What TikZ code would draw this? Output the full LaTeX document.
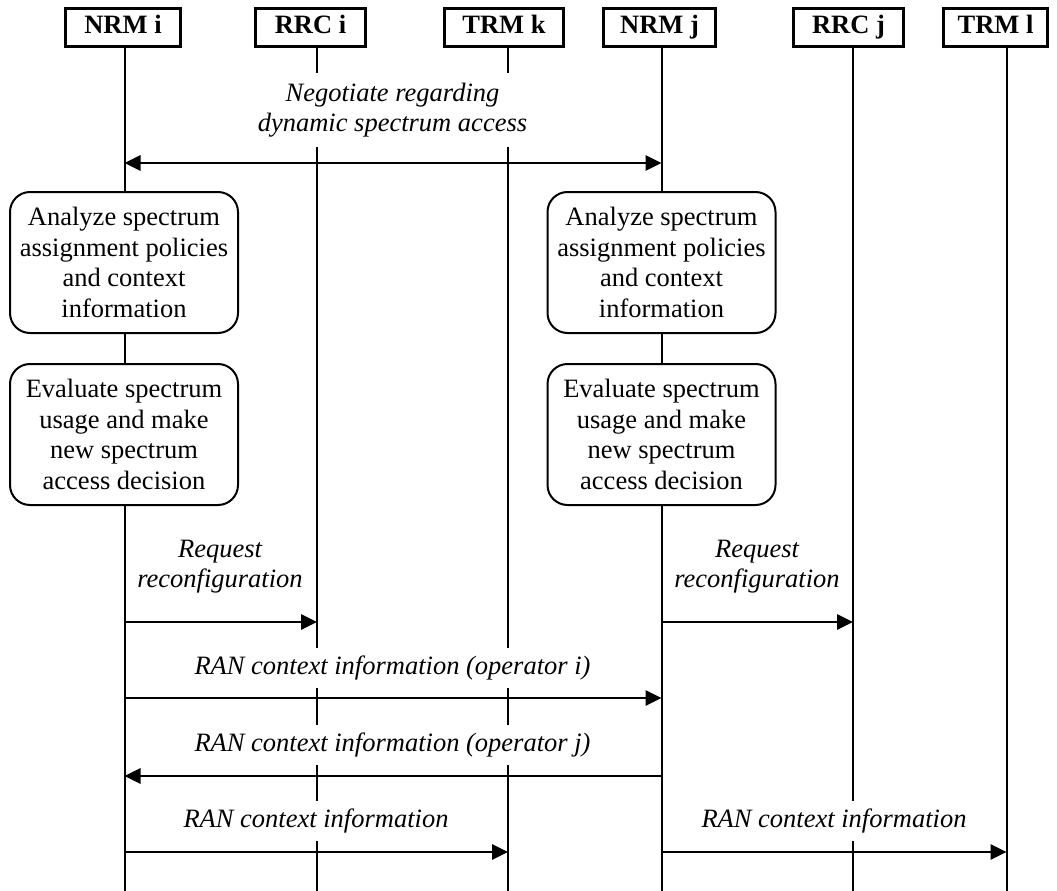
\documentclass[tikz,border=0pt]{standalone}
\usepackage{fontspec}
\setmainfont{Liberation Serif}
\usetikzlibrary{arrows.meta}

\begin{document}
\begin{tikzpicture}[x=1pt,y=-1pt,
  hdr/.style={draw,line width=3.3pt,font=\bfseries\fontsize{26.5}{30}\selectfont,
    minimum height=37.7pt,inner sep=0pt,text height=17.5pt,text depth=5.5pt},
  life/.style={line width=2pt},
  actbox/.style={draw,fill=white,line width=2pt,rounded corners=20pt,
    minimum width=228pt,minimum height=141pt,align=center,inner sep=0pt,
    font=\fontsize{26.5}{30.7}\selectfont},
  lbl/.style={fill=white,align=center,font=\itshape\fontsize{26.5}{30}\selectfont,
    inner xsep=6pt,inner ysep=8pt},
  msg/.style={line width=2.7pt,-{Triangle[length=16pt,width=15pt]}},
  msgboth/.style={line width=2.7pt,{Triangle[length=16pt,width=15pt]}-{Triangle[length=16pt,width=15pt]}}
]
\useasboundingbox (0,0) rectangle (1057,891);

% lifeline ends
\coordinate (L1top) at (124.5,46);  \coordinate (L1bot) at (124.5,891);
\coordinate (L2top) at (317,46);    \coordinate (L2bot) at (317,891);
\coordinate (L3top) at (508,46);    \coordinate (L3bot) at (508,891);
\coordinate (L4top) at (661.5,46);  \coordinate (L4bot) at (661.5,891);
\coordinate (L5top) at (853,46);    \coordinate (L5bot) at (853,891);
\coordinate (L6top) at (1006.5,46); \coordinate (L6bot) at (1006.5,891);

% message heights
\coordinate (m0) at (0,163);
\coordinate (m1) at (0,622);
\coordinate (m2) at (0,698);
\coordinate (m3) at (0,776);
\coordinate (m4) at (0,852);

% lifelines
\foreach \i in {1,...,6} \draw[life] (L\i top) -- (L\i bot);

% participants
\node[hdr,minimum width=114.7pt] (nrmi) at (123,27.5)   {NRM i};
\node[hdr,minimum width=109.7pt] (rrci) at (310.5,27.5) {RRC i};
\node[hdr,minimum width=118.7pt] (trmk) at (504,27.5)   {TRM k};
\node[hdr,minimum width=111.7pt] (nrmj) at (659.5,27.5) {NRM j};
\node[hdr,minimum width=109.7pt] (rrcj) at (848.5,27.5) {RRC j};
\node[hdr,minimum width=103.7pt] (trml) at (995.5,27.5) {TRM l};

% local activities
\node[actbox] (ana1) at (124,262.5) {Analyze spectrum\\assignment policies\\and context\\information};
\node[actbox] (eva1) at (124,434.5) {Evaluate spectrum\\usage and make\\new spectrum\\access decision};
\node[actbox] (ana2) at (661.5,262.5) {Analyze spectrum\\assignment policies\\and context\\information};
\node[actbox] (eva2) at (661.5,434.5) {Evaluate spectrum\\usage and make\\new spectrum\\access decision};

% message labels
\node[lbl,inner ysep=10pt] (neg) at (392.5,110) {Negotiate regarding\\dynamic spectrum access};
\node[lbl] (req1) at (220,567) {Request\\reconfiguration};
\node[lbl] (req2) at (757,567) {Request\\reconfiguration};
\node[lbl] (ctxi) at (392.5,668) {RAN context information (operator i)};
\node[lbl] (ctxj) at (392.5,745) {RAN context information (operator j)};
\node[lbl] (ctxk) at (316,821) {RAN context information};
\node[lbl] (ctxl) at (834,821) {RAN context information};

% messages
\draw[msgboth] (L1top |- m0) -- (L4top |- m0);
\draw[msg] (L1top |- m1) -- (L2top |- m1);
\draw[msg] (L4top |- m1) -- (L5top |- m1);
\draw[msg] (L1top |- m2) -- (L4top |- m2);
\draw[msg] (L4top |- m3) -- (L1top |- m3);
\draw[msg] (L1top |- m4) -- (L3top |- m4);
\draw[msg] (L4top |- m4) -- (L6top |- m4);
\end{tikzpicture}
\end{document}
